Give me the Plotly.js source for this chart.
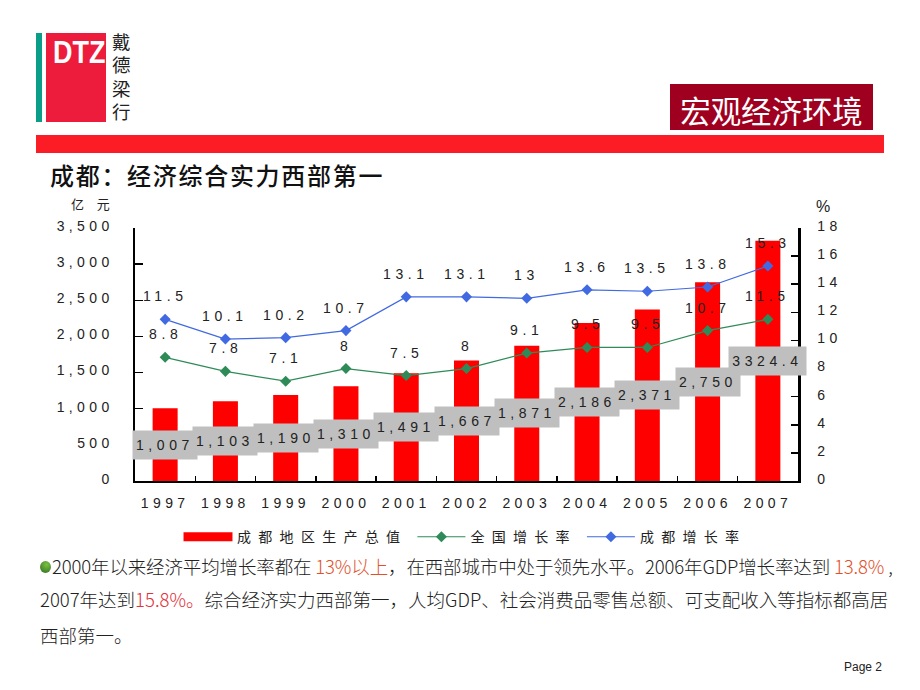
<!DOCTYPE html>
<html><head><meta charset="utf-8">
<script src="https://cdn.plot.ly/plotly-3.0.1.min.js"></script>
<style>
html,body{margin:0;padding:0;background:#fff;width:920px;height:690px;overflow:hidden}
#chart{position:absolute;left:0;top:0;width:920px;height:690px}
.c{position:absolute;white-space:nowrap;font-family:"Noto Sans CJK SC",sans-serif}
.xaxislayer-above text,.yaxislayer-above text,.overaxes-above text{letter-spacing:4.4px}
.annotation-text{letter-spacing:4.6px}
.legendtext{letter-spacing:7.3px}
.legend .traces:first-child .legendpoints path{transform:translate(29px,0) scale(4.08,.75)}
.body{font-family:"Noto Sans CJK SC",sans-serif;font-size:18.5px;color:#222;height:24px;line-height:24px;font-weight:300}
.hl1{color:#e2502a}.hl2{color:#e2303a}
</style></head><body>
<div id="chart"></div>
<div class="c" style="left:36px;top:33px;width:5.5px;height:89px;background:#0a9e88"></div>
<div class="c" style="left:45.5px;top:33px;width:60px;height:89px;background:#ed1c3c"></div>
<div class="c" style="left:53px;top:35px;font:bold 31px 'Liberation Sans',sans-serif;color:#fff;transform:scaleX(.87);transform-origin:0 0">DTZ</div>
<div class="c" style="left:112px;top:30px;width:20px;font-size:18.5px;line-height:23.4px;white-space:normal;color:#222">戴德梁行</div>
<div class="c" style="left:670px;top:84px;width:203px;height:46px;background:#a00020;color:#fff;font-size:30.4px;line-height:52px;text-align:center">宏观经济环境</div>
<div class="c" style="left:36px;top:135px;width:848px;height:18px;background:#fb1c26"></div>
<div class="c" style="left:50px;top:157px;font-size:24px;line-height:36px;font-weight:500;letter-spacing:1.7px;color:#111">成都：经济综合实力西部第一</div>
<div class="c" style="left:40px;top:561px;width:11px;height:12px;border-radius:50%;background:radial-gradient(circle at 60% 30%,#7cc242,#2e6b1e)"></div>
<div class="c body" style="left:52px;top:554px;letter-spacing:-.14px">2000年以来经济平均增长率都在 <span class="hl1">13%以上</span>，在西部城市中处于领先水平。2006年GDP增长率达到 <span class="hl1">13.8%</span> ,</div>
<div class="c body" style="left:40px;top:587px">2007年达到<span class="hl2">15.8%。</span>综合经济实力西部第一，人均GDP、社会消费品零售总额、可支配收入等指标都高居</div>
<div class="c body" style="left:40px;top:623px">西部第一。</div>
<div class="c" style="left:844px;top:660px;font:12px 'Liberation Sans',sans-serif;color:#222">Page 2</div>
<script>
const years = ['1997','1998','1999','2000','2001','2002','2003','2004','2005','2006','2007'];
const gdp = [1007,1103,1190,1310,1491,1667,1871,2186,2371,2750,3324.4];
const gdpLabels = ['1,007','1,103','1,190','1,310','1,491','1,667','1,871','2,186','2,371','2,750','3324.4'];
const national = [8.8,7.8,7.1,8,7.5,8,9.1,9.5,9.5,10.7,11.5];
const chengdu = [11.5,10.1,10.2,10.7,13.1,13.1,13,13.6,13.5,13.8,15.3];
const seriesNames = ['成都地区生产总值','全国增长率','成都增长率'];
const colors = {bar:'#ff0000', national:'#2e8b57', chengdu:'#4169e1', ink:'#222222', box:'#bfbfbf'};
const fontFamily = '"Liberation Sans","Noto Sans CJK SC",sans-serif';

const traces = [
  {type:'bar',x:years,y:gdp,name:seriesNames[0],marker:{color:colors.bar,line:{width:0}},yaxis:'y'},
  {type:'scatter',mode:'lines+markers',x:years,y:national,name:seriesNames[1],yaxis:'y2',
   line:{color:colors.national,width:1.2},marker:{symbol:'diamond',size:8.5,color:colors.national}},
  {type:'scatter',mode:'lines+markers',x:years,y:chengdu,name:seriesNames[2],yaxis:'y2',
   line:{color:colors.chengdu,width:1.2},marker:{symbol:'diamond',size:8.5,color:colors.chengdu}}
];
const ann = [];
const labelFont = {family:fontFamily,size:14,color:colors.ink};
years.forEach((yr,i)=>{
  ann.push({x:i,y:gdp[i]/2,xref:'x',yref:'y',text:gdpLabels[i],showarrow:false,bgcolor:colors.box,
    width:gdpLabels[i].length>5?77:64,height:28,align:'center',valign:'middle',font:labelFont,borderpad:0});
});
[national,chengdu].forEach(s=>s.forEach((v,i)=>{
  ann.push({x:i,y:v,xref:'x',yref:'y2',yshift:23,text:String(v),showarrow:false,font:labelFont});
}));
ann.push({xref:'paper',yref:'paper',x:-43/663,y:(481-204)/253,text:'亿 元',showarrow:false,
  font:{family:fontFamily,size:13,color:colors.ink}, xanchor:'center',yanchor:'middle'});
ann.push({xref:'paper',yref:'paper',x:(825-135)/663,y:(481-206)/253,text:'%',showarrow:false,
  font:{family:fontFamily,size:16,color:colors.ink}, xanchor:'center',yanchor:'middle'});

const tickFont = {family:fontFamily,size:14,color:colors.ink};
const layout = {
  width:920,height:690,margin:{l:135,r:122,t:228,b:209},
  paper_bgcolor:'rgba(0,0,0,0)',plot_bgcolor:'rgba(0,0,0,0)',showlegend:true,bargap:0.585,
  xaxis:{type:'category',range:[-0.5,10.5],tickson:'boundaries',ticks:'inside',ticklen:5,tickcolor:'#000',tickwidth:1.5,
    showline:true,linecolor:'#000',linewidth:2,tickfont:tickFont,tickangle:0,ticklabelstandoff:8,showgrid:false,zeroline:false},
  yaxis:{range:[0,3500],dtick:500,tickformat:',d',ticks:'inside',ticklen:8,tickcolor:'#000',tickwidth:1.5,
    showline:true,linecolor:'#000',linewidth:2.5,tickfont:tickFont,ticklabelstandoff:16,ticklabelshift:-2,showgrid:false,zeroline:false},
  yaxis2:{range:[0,18],dtick:2,overlaying:'y',side:'right',ticks:'inside',ticklen:7,tickcolor:'#000',tickwidth:1.5,
    showline:true,linecolor:'#000',linewidth:2.5,tickfont:tickFont,ticklabelstandoff:14,ticklabelshift:-2,showgrid:false,zeroline:false},
  legend:{orientation:'h',x:(179-135)/663,y:-0.222,xanchor:'left',yanchor:'middle',itemwidth:48,traceorder:'normal',
    font:{family:fontFamily,size:14,color:colors.ink},bgcolor:'rgba(0,0,0,0)',itemclick:false,itemdoubleclick:false},
  annotations:ann
};
Plotly.newPlot('chart',traces,layout,{displayModeBar:false,staticPlot:true});
</script>
</body></html>
